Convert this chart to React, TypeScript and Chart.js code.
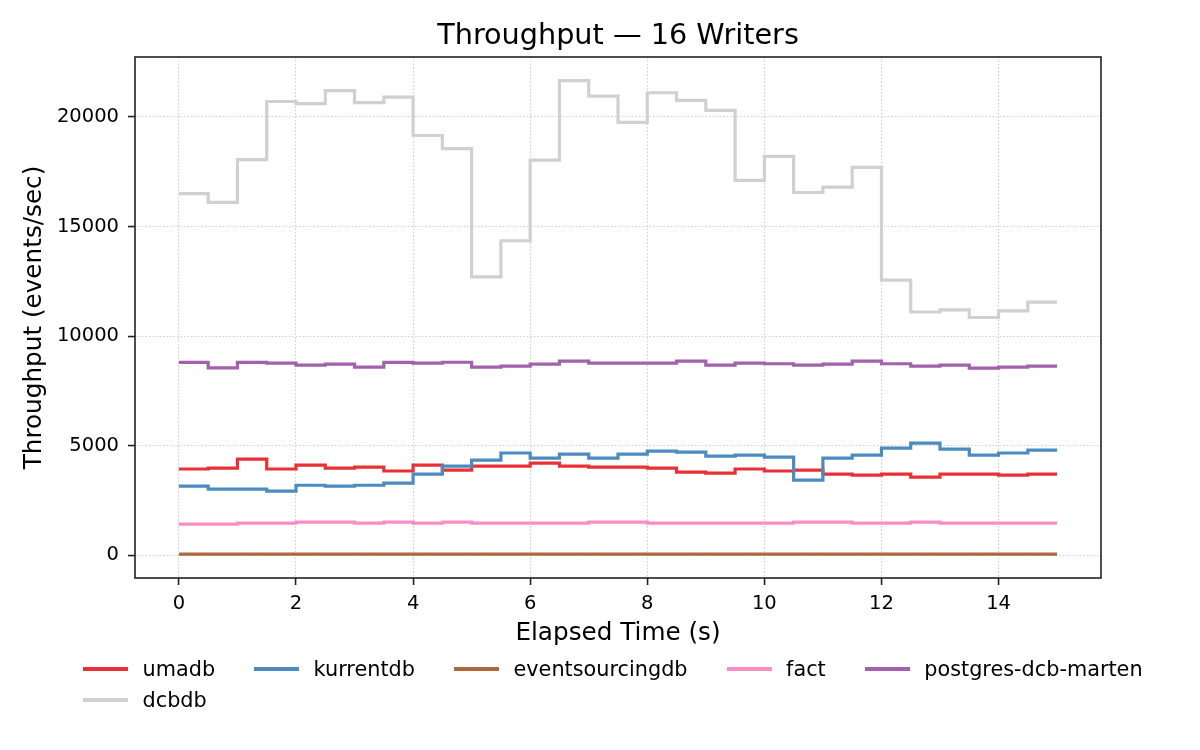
import React, { useEffect, useRef } from 'react';
import { Chart, registerables } from 'chart.js';

Chart.register(...registerables);

// elapsed seconds, one sample every half second
const elapsed = [0, 0.5, 1, 1.5, 2, 2.5, 3, 3.5, 4, 4.5, 5, 5.5, 6, 6.5, 7, 7.5, 8, 8.5, 9, 9.5, 10, 10.5, 11, 11.5, 12, 12.5, 13, 13.5, 14, 14.5, 15];

const umadb = [3940, 3980, 4390, 3940, 4120, 3980, 4030, 3850, 4120, 3890, 4070, 4070, 4210, 4070, 4030, 4030, 3980, 3800, 3750, 3940, 3850, 3890, 3710, 3660, 3710, 3570, 3710, 3710, 3660, 3710, 3710];
const kurrentdb = [3160, 3020, 3020, 2930, 3200, 3160, 3200, 3300, 3710, 4070, 4350, 4670, 4440, 4620, 4440, 4620, 4760, 4710, 4530, 4570, 4480, 3430, 4440, 4570, 4890, 5120, 4850, 4570, 4670, 4800, 4800];
const eventsourcingdb = [60, 60, 60, 60, 60, 60, 60, 60, 60, 60, 60, 60, 60, 60, 60, 60, 60, 60, 60, 60, 60, 60, 60, 60, 60, 60, 60, 60, 60, 60, 60];
const fact = [1430, 1430, 1470, 1470, 1520, 1520, 1470, 1520, 1470, 1520, 1470, 1470, 1470, 1470, 1520, 1520, 1470, 1470, 1470, 1470, 1470, 1520, 1520, 1470, 1470, 1520, 1470, 1470, 1470, 1470, 1470];
const postgresDcbMarten = [8800, 8550, 8800, 8770, 8680, 8720, 8590, 8800, 8770, 8810, 8590, 8630, 8720, 8860, 8770, 8770, 8770, 8860, 8680, 8770, 8740, 8680, 8720, 8860, 8740, 8630, 8680, 8540, 8590, 8630, 8630];
const dcbdb = [16500, 16100, 18050, 20700, 20600, 21200, 20650, 20900, 19150, 18550, 12700, 14350, 18030, 21650, 20950, 19750, 21100, 20750, 20300, 17100, 18200, 16550, 16800, 17700, 12550, 11100, 11200, 10850, 11150, 11550, 11550];

const seriesNames = ['umadb', 'kurrentdb', 'eventsourcingdb', 'fact', 'postgres-dcb-marten', 'dcbdb'];
const seriesValues = [umadb, kurrentdb, eventsourcingdb, fact, postgresDcbMarten, dcbdb];
const seriesColors = ['#e73134', '#4b8bbf', '#af673d', '#f88ec5', '#a360ac', '#d0d0d0'];

const chartTitle = 'Throughput — 16 Writers';
const xTicks = [0, 2, 4, 6, 8, 10, 12, 14];
const yTicks = [0, 5000, 10000, 15000, 20000];

const FONT = "'DejaVu Sans', sans-serif";

// full box around the plot (matplotlib spines) + title centred over the axes
const framePlugin = {
  id: 'frame',
  afterDraw(chart: any) {
    const { ctx, chartArea: a } = chart;
    ctx.save();
    ctx.strokeStyle = '#222';
    ctx.lineWidth = 1.6;
    ctx.strokeRect(a.left, a.top, a.right - a.left, a.bottom - a.top);
    ctx.fillStyle = '#000';
    ctx.font = `28.7px ${FONT}`;
    ctx.textAlign = 'center';
    ctx.textBaseline = 'alphabetic';
    ctx.fillText(chartTitle, (a.left + a.right) / 2, 43.5);
    ctx.restore();
  },
};

const gridOpts = {
  color: '#cccccc',
  lineWidth: 1.1,
  drawTicks: true,
  tickLength: 7,
  tickColor: '#222',
  tickWidth: 1.6,
  tickBorderDash: [],
};

const ThroughputChart: React.FC = () => {
  const canvasRef = useRef<HTMLCanvasElement>(null);
  const chartRef = useRef<Chart | null>(null);

  useEffect(() => {
    if (!canvasRef.current) return;
    if (chartRef.current) chartRef.current.destroy();

    const datasets = seriesNames.map((name, i) => ({
      label: name,
      data: elapsed.map((t, j) => ({ x: t, y: seriesValues[i][j] })),
      borderColor: seriesColors[i],
      backgroundColor: seriesColors[i],
      borderWidth: 3.2,
      pointRadius: 0,
      stepped: true as const,
      fill: false,
      borderJoinStyle: 'miter' as const,
      order: seriesNames.length - 1 - i,
    }));

    chartRef.current = new Chart(canvasRef.current, {
      type: 'line',
      data: { datasets },
      plugins: [framePlugin],
      options: {
        responsive: false,
        animation: false,
        layout: { padding: { left: 0, right: 99, top: 57, bottom: 100 } },
        plugins: {
          legend: { display: false },
          tooltip: { enabled: false },
          title: { display: false },
        },
        scales: {
          x: {
            type: 'linear',
            min: -0.75,
            max: 15.75,
            afterBuildTicks: (scale: any) => {
              scale.ticks = xTicks.map((v) => ({ value: v }));
            },
            afterFit: (scale: any) => {
              scale.height = 72;
            },
            grid: gridOpts,
            border: { display: false, dash: [1.4, 2.1] },
            ticks: {
              color: '#000',
              padding: 7,
              font: { family: FONT, size: 19.5 },
              maxRotation: 0,
            },
            title: {
              display: true,
              text: 'Elapsed Time (s)',
              color: '#000',
              font: { family: FONT, size: 24.7 },
              padding: { top: 0, bottom: 1.5 },
            },
          },
          y: {
            type: 'linear',
            min: -1030,
            max: 22730,
            afterBuildTicks: (scale: any) => {
              scale.ticks = yTicks.map((v) => ({ value: v }));
            },
            afterFit: (scale: any) => {
              scale.width = 135;
            },
            grid: gridOpts,
            border: { display: false, dash: [1.4, 2.1] },
            ticks: {
              color: '#000',
              padding: 9,
              font: { family: FONT, size: 19.5 },
              callback: (v: any) => String(v),
            },
            title: {
              display: true,
              text: 'Throughput (events/sec)',
              color: '#000',
              font: { family: FONT, size: 24.7 },
              padding: { top: 20, bottom: 0 },
            },
          },
        },
      },
    });

    return () => {
      if (chartRef.current) {
        chartRef.current.destroy();
        chartRef.current = null;
      }
    };
  }, []);

  return <canvas ref={canvasRef} width={1200} height={750} />;
};

const Legend: React.FC = () => (
  <div
    style={{
      position: 'absolute',
      left: 83,
      top: 653.5,
      display: 'grid',
      gridTemplateColumns: 'repeat(5, auto)',
      columnGap: 39,
      gridAutoRows: 31,
      fontFamily: FONT,
      fontSize: 20.8,
      color: '#000',
    }}
  >
    {seriesNames.map((name, i) => (
      <div key={name} style={{ display: 'flex', alignItems: 'center', whiteSpace: 'nowrap' }}>
        <span
          style={{
            display: 'inline-block',
            width: 45,
            height: 3.2,
            background: seriesColors[i],
            marginRight: 14.5,
          }}
        />
        <span>{name}</span>
      </div>
    ))}
  </div>
);

export default function App() {
  return (
    <div style={{ position: 'fixed', left: 0, top: 0, width: 1200, height: 750, background: '#fff' }}>
      <ThroughputChart />
      <Legend />
    </div>
  );
}
